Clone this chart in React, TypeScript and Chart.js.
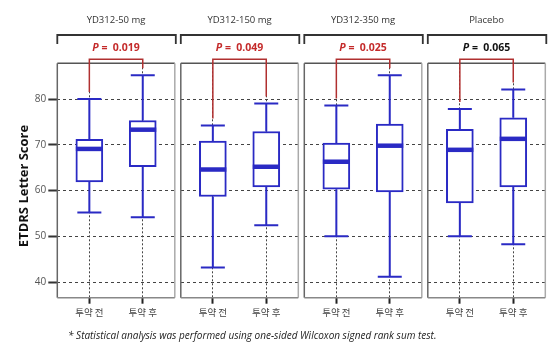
import React, { useEffect, useRef } from 'react';
import { Chart, registerables } from 'chart.js';
Chart.register(...registerables);

// ---- data ----
const groups = ['YD312-50 mg', 'YD312-150 mg', 'YD312-350 mg', 'Placebo'];
const categories = ['투약 전', '투약 후'];
const pValues = ['0.019', '0.049', '0.025', '0.065'];
const significant = [true, true, true, false];
const yTicks = [40, 50, 60, 70, 80];
// per group: [투약 전, 투약 후]
const whiskerLow = [[55.2, 54.2], [43.2, 52.4], [50.0, 41.2], [50.0, 48.3]];
const q1 = [[61.9, 65.2], [58.7, 60.8], [60.3, 59.7], [57.3, 60.8]];
const median = [[69.1, 73.3], [64.6, 65.2], [66.3, 69.8], [68.9, 71.3]];
const q3 = [[71.2, 75.3], [70.8, 72.9], [70.4, 74.5], [73.4, 75.9]];
const whiskerHigh = [[80.0, 85.2], [74.2, 79.0], [78.6, 85.2], [77.8, 82.1]];
const footnote = '* Statistical analysis was performed using one-sided Wilcoxon signed rank sum test.';
const yTitle = 'ETDRS Letter Score';

// ---- layout ----
const PANEL_LEFT = [57.3, 180.8, 304.3, 427.8];
const PANEL_W = 117.5;
const TOP = 63.3;
const BOTTOM = 297.7;
const H = 361;
const Y_MIN = 36.6;
const Y_MAX = 87.8;
const BLUE = '#2a2ac4';
const RED = '#c42a2a';
const LATIN = '"Open Sans", "Noto Sans", sans-serif';
const KR = '"Noto Sans CJK KR", "Open Sans", sans-serif';

const decor = {
  id: 'decor',
  afterDatasetsDraw(chart: any) {
    const idx = chart.options.plugins.decor.index;
    const { ctx, chartArea, scales } = chart;
    const x = scales.x;
    const y = scales.y;
    ctx.save();
    // panel border
    ctx.lineWidth = 1.5;
    const { left, right, top, bottom } = chartArea;
    const seg = (x1: number, y1: number, x2: number, y2: number, c: string) => {
      ctx.strokeStyle = c;
      ctx.beginPath();
      ctx.moveTo(x1, y1);
      ctx.lineTo(x2, y2);
      ctx.stroke();
    };
    seg(left, top, right, top, '#555');
    seg(left, top, left, bottom, '#666');
    seg(right, top, right, bottom, '#aaa');
    seg(left, bottom, right, bottom, '#888');

    for (let c = 0; c < 2; c++) {
      const px = x.getPixelForValue(c + 1);
      const pMin = y.getPixelForValue(whiskerLow[idx][c]);
      const pQ1 = y.getPixelForValue(q1[idx][c]);
      const pMed = y.getPixelForValue(median[idx][c]);
      const pQ3 = y.getPixelForValue(q3[idx][c]);
      const pMax = y.getPixelForValue(whiskerHigh[idx][c]);
      ctx.strokeStyle = BLUE;
      ctx.lineWidth = 2;
      ctx.beginPath();
      ctx.moveTo(px, pQ3);
      ctx.lineTo(px, pMax);
      ctx.moveTo(px - 12, pMax);
      ctx.lineTo(px + 12, pMax);
      ctx.moveTo(px, pQ1);
      ctx.lineTo(px, pMin);
      ctx.moveTo(px - 12, pMin);
      ctx.lineTo(px + 12, pMin);
      ctx.stroke();
      ctx.lineWidth = 4.5;
      ctx.beginPath();
      ctx.moveTo(px - 13.5, pMed);
      ctx.lineTo(px + 13.5, pMed);
      ctx.stroke();
    }
    // red bracket
    const bx1 = x.getPixelForValue(1);
    const bx2 = x.getPixelForValue(2);
    const by = top - 4;
    ctx.strokeStyle = '#b03030';
    ctx.lineWidth = 1.5;
    ctx.beginPath();
    ctx.moveTo(bx1, y.getPixelForValue(whiskerHigh[idx][0]) - 7);
    ctx.lineTo(bx1, by);
    ctx.lineTo(bx2, by);
    ctx.lineTo(bx2, y.getPixelForValue(whiskerHigh[idx][1]) - 7);
    ctx.stroke();
    ctx.restore();
  },
  afterDraw(chart: any) {
    const idx = chart.options.plugins.decor.index;
    const { ctx, chartArea } = chart;
    const { left, right } = chartArea;
    const cx = (left + right) / 2;
    ctx.save();
    // group title
    ctx.fillStyle = '#333';
    ctx.font = `9.5px ${LATIN}`;
    ctx.textAlign = 'center';
    ctx.textBaseline = 'middle';
    ctx.fillText(groups[idx], cx, 20.7);
    // black bracket
    ctx.strokeStyle = '#333';
    ctx.lineWidth = 1.8;
    ctx.beginPath();
    ctx.moveTo(left, 44);
    ctx.lineTo(left, 35);
    ctx.lineTo(right + 1, 35);
    ctx.lineTo(right + 1, 44);
    ctx.stroke();
    // p-value
    const color = significant[idx] ? RED : '#111';
    const pFont = `italic bold 10.5px ${LATIN}`;
    const rFont = `bold 10.5px ${LATIN}`;
    const rest = ' =  ' + pValues[idx];
    ctx.font = pFont;
    const w1 = ctx.measureText('P').width;
    ctx.font = rFont;
    const w2 = ctx.measureText(rest).width;
    const sx = cx - (w1 + w2) / 2;
    ctx.textAlign = 'left';
    ctx.fillStyle = color;
    ctx.font = pFont;
    ctx.fillText('P', sx, 48.5);
    ctx.font = rFont;
    ctx.fillText(rest, sx + w1, 48.5);
    // y title
    if (idx === 0) {
      ctx.translate(24, 186);
      ctx.rotate(-Math.PI / 2);
      ctx.textAlign = 'center';
      ctx.fillStyle = '#111';
      ctx.font = `bold 13px ${LATIN}`;
      ctx.fillText(yTitle, 0, 0);
    }
    ctx.restore();
  },
};

function Panel({ index }: { index: number }) {
  const ref = useRef<HTMLCanvasElement>(null);
  const first = index === 0;
  const canvasLeft = first ? 0 : Math.floor(PANEL_LEFT[index] - 4);
  const padL = first ? 0 : PANEL_LEFT[index] - canvasLeft;
  const yWidth = first ? PANEL_LEFT[0] : 0;
  const width = Math.ceil(PANEL_LEFT[index] + PANEL_W + 4) - canvasLeft;
  const padR = width - (PANEL_LEFT[index] + PANEL_W - canvasLeft);

  useEffect(() => {
    const canvas = ref.current!;
    const chart = new Chart(canvas, {
      type: 'bar',
      data: {
        datasets: [
          {
            data: categories.map((_, c) => ({ x: c + 1, y: [q1[index][c], q3[index][c]] })) as any,
            backgroundColor: '#ffffff',
            borderColor: BLUE,
            borderWidth: 2,
            borderSkipped: false,
            barThickness: 27,
          },
        ],
      },
      options: {
        responsive: false,
        animation: false,
        layout: { padding: { top: TOP, left: padL, right: padR, bottom: 0 } },
        plugins: {
          legend: { display: false },
          tooltip: { enabled: false },
          decor: { index },
        } as any,
        scales: {
          x: {
            type: 'linear',
            min: 0.4,
            max: 2.6,
            offset: false,
            afterBuildTicks: (s: any) => {
              s.ticks = categories.map((_, c) => ({ value: c + 1 }));
            },
            afterFit: (s: any) => {
              s.height = H - BOTTOM;
            },
            ticks: {
              callback: (v: any) => categories[Number(v) - 1],
              font: { family: KR, size: 9.5 },
              color: '#444',
              padding: 3,
              maxRotation: 0,
              autoSkip: false,
            },
            grid: {
              offset: false,
              color: '#444',
              lineWidth: 1,
              drawTicks: true,
              tickLength: 6,
              tickWidth: 2,
              tickColor: '#222',
              tickBorderDash: [],
            },
            border: { display: false, dash: [2, 2] },
          },
          y: {
            type: 'linear',
            min: Y_MIN,
            max: Y_MAX,
            afterBuildTicks: (s: any) => {
              s.ticks = yTicks.map((v) => ({ value: v }));
            },
            afterFit: (s: any) => {
              s.width = yWidth;
            },
            ticks: {
              display: first,
              font: { family: LATIN, size: 10 },
              color: '#555',
              padding: 2,
            },
            grid: {
              color: '#444',
              lineWidth: 1,
              drawTicks: first,
              tickLength: 9,
              tickWidth: 2,
              tickColor: '#333',
              tickBorderDash: [],
            },
            border: { display: false, dash: [3, 3] },
          },
        } as any,
      },
      plugins: [decor as any],
    });
    return () => chart.destroy();
  }, [index]);

  return (
    <canvas
      ref={ref}
      width={width}
      height={H}
      style={{ position: 'absolute', left: canvasLeft, top: 0, width, height: H }}
    />
  );
}

export default function App() {
  return (
    <div style={{ position: 'absolute', left: 0, top: 0, width: 560, height: 361, background: '#fff', overflow: 'hidden' }}>
      {groups.map((_, i) => (
        <Panel key={i} index={i} />
      ))}
      <div
        style={{
          position: 'absolute',
          left: 68,
          top: 327,
          fontFamily: LATIN,
          fontStyle: 'italic',
          fontSize: 10,
          color: '#222',
          whiteSpace: 'nowrap',
          lineHeight: '16px',
        }}
      >
        {footnote}
      </div>
    </div>
  );
}
